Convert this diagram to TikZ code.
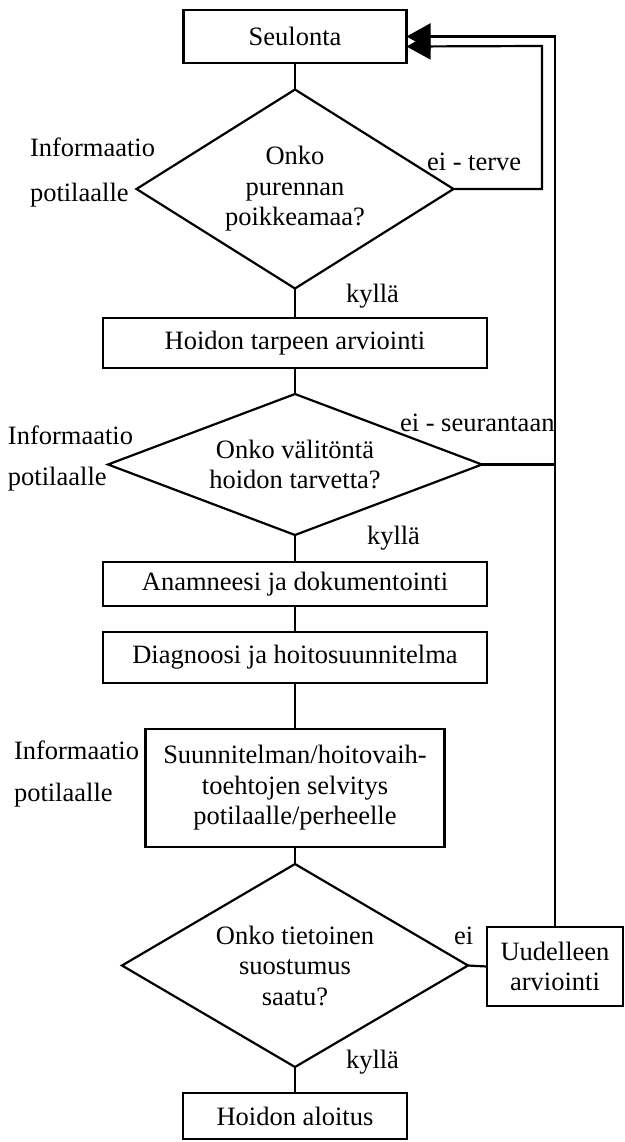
\documentclass[tikz,border=0pt]{standalone}
\usepackage{fontspec}
\setmainfont{Liberation Serif}
\usetikzlibrary{shapes.geometric,arrows.meta,calc}
\begin{document}
\begin{tikzpicture}[x=1pt,y=-1pt,
  every node/.style={font=\fontsize{26.5}{30.5}\selectfont, inner sep=0pt, outer sep=0pt},
  box/.style={draw, line width=2.2pt, rectangle, align=center},
  dia/.style={draw, line width=2.2pt, diamond, align=center},
  lbl/.style={anchor=west},
  conn/.style={line width=2.2pt},
  arr/.style={line width=2.2pt, -{Triangle[length=24pt,width=26pt]}}
]
\useasboundingbox (0,0) rectangle (624,1142);
% boxes
\node[box, minimum width=223pt, minimum height=53pt] (seul) at (295,36.5) {Seulonta};
\node[dia, minimum width=317pt, minimum height=199pt, aspect=1.6] (d1) at (295,189) {Onko\\purennan\\poikkeamaa?};
\node[box, minimum width=384pt, minimum height=50pt] (hoid) at (295,343) {Hoidon tarpeen arviointi};
\node[dia, minimum width=374pt, minimum height=141pt, aspect=2.65] (d2) at (295,464.5) {Onko välitöntä\\hoidon tarvetta?};
\node[box, minimum width=384pt, minimum height=44pt] (anam) at (295,584) {Anamneesi ja dokumentointi};
\node[box, minimum width=384pt, minimum height=51pt] (diag) at (295,657.5) {Diagnoosi ja hoitosuunnitelma};
\node[box, minimum width=299pt, minimum height=118pt] (suun) at (295,788) {Suunnitelman/hoitovaih-\\toehtojen selvitys\\potilaalle/perheelle};
\node[dia, minimum width=346pt, minimum height=203pt, aspect=1.7] (d3) at (295,965.5) {Onko tietoinen\\suostumus\\saatu?};
\node[box, minimum width=136pt, minimum height=79pt] (uud) at (555,966.5) {Uudelleen\\arviointi};
\node[box, minimum width=224pt, minimum height=46pt] (aloit) at (295,1116) {Hoidon aloitus};
% labels
\node[lbl] (i1a) at (30,147) {Informaatio};
\node[lbl] (i1b) at (30,195) {potilaalle};
\node[lbl] (i2a) at (8,435) {Informaatio};
\node[lbl] (i2b) at (8,479) {potilaalle};
\node[lbl] (i3a) at (14,750) {Informaatio};
\node[lbl] (i3b) at (14,795) {potilaalle};
\node[lbl] (eit) at (427,162) {ei - terve};
\node[lbl] (k1) at (346,296) {kyllä};
\node[lbl] (eis) at (400,423) {ei - seurantaan};
\node[lbl] (k2) at (367,538) {kyllä};
\node[lbl] (ei3) at (454,936) {ei};
\node[lbl] (k3) at (346,1062) {kyllä};
% coordinates
\coordinate (cin) at (542,46);
\coordinate (ina) at ($(seul.east)+(0,10)$);
\coordinate (cout) at (uud.north |- seul.east);
% connectors
\draw[conn] (seul.south) -- (d1.north);
\draw[conn] (d1.south) -- (hoid.north);
\draw[conn] (hoid.south) -- (d2.north);
\draw[conn] (d2.south) -- (anam.north);
\draw[conn] (anam.south) -- (diag.north);
\draw[conn] (diag.south) -- (suun.north);
\draw[conn] (suun.south) -- (d3.north);
\draw[conn] (d3.south) -- (aloit.north);
\draw[conn] (d3.east) -- (uud.west);
\draw[conn] (d2.east) -- (d2.east -| uud.north);
\draw[arr] (d1.east) -| (cin) -- (ina);
\draw[arr] (uud.north) -- (cout) -- (seul.east);
\end{tikzpicture}
\end{document}
